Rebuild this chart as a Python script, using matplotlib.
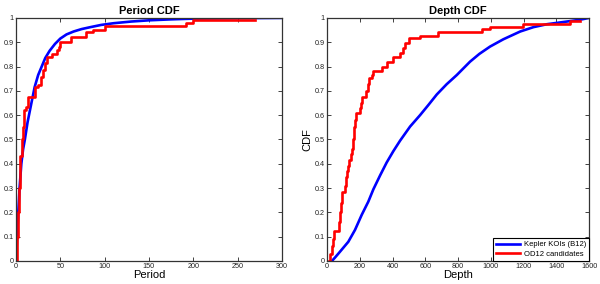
import matplotlib.pyplot as plt

plt.rcParams['font.family'] = ['Liberation Sans', 'DejaVu Sans']

# Period CDF, Kepler KOIs (B12) - smooth curve
period_koi = [0, 1, 2, 4, 6, 8, 10, 13, 16, 21, 25, 29, 33, 38, 44, 50, 57, 65, 74, 84,
              96, 110, 130, 150, 175, 200, 250, 300]
period_koi_cdf = [0, 0.08, 0.16, 0.3, 0.4, 0.46, 0.5, 0.57, 0.625, 0.715, 0.765, 0.80,
                  0.835, 0.865, 0.893, 0.915, 0.932, 0.944, 0.954, 0.962, 0.971, 0.978,
                  0.985, 0.99, 0.994, 0.997, 0.999, 1.0]

# Period CDF, OD12 candidates - steps
period_od = [0, 1, 2, 3, 4, 5, 6.4, 7.5, 9, 11.3, 13.9, 21.4, 25, 27.8, 30.8, 32.7,
             34.6, 40.2, 45.9, 48, 49.6, 62.5, 79, 86.6, 100.5, 192, 200, 270]
period_od_cdf = [0, 0.1, 0.2, 0.3, 0.36, 0.43, 0.5, 0.55, 0.62, 0.635, 0.675, 0.715,
                 0.725, 0.758, 0.785, 0.815, 0.84, 0.853, 0.868, 0.88, 0.9, 0.922,
                 0.94, 0.952, 0.965, 0.977, 0.99, 0.99]

# Depth CDF, Kepler KOIs (B12)
depth_koi = [30, 50, 79, 130, 171, 212, 252, 283, 324, 364, 405, 446, 507, 568, 619,
             670, 730, 792, 873, 930, 995, 1076, 1179, 1260, 1342, 1464, 1540, 1600]
depth_koi_cdf = [0, 0.015, 0.038, 0.079, 0.128, 0.19, 0.244, 0.295, 0.352, 0.405, 0.452,
                 0.495, 0.553, 0.60, 0.642, 0.685, 0.727, 0.765, 0.82, 0.852, 0.882,
                 0.912, 0.944, 0.962, 0.974, 0.985, 0.992, 1.0]

# Depth CDF, OD12 candidates
depth_od = [15, 20, 28, 35, 42, 72, 78, 84, 90, 108, 113, 122, 130, 136, 144, 150, 156,
            162, 170, 177, 200, 210, 216, 240, 248, 256, 273, 283, 334, 364, 401, 446,
            462, 476, 503, 568, 680, 945, 995, 1199, 1484, 1545]
depth_od_cdf = [0, 0.03, 0.06, 0.09, 0.125, 0.16, 0.2, 0.24, 0.285, 0.31, 0.347, 0.37,
                0.39, 0.415, 0.44, 0.46, 0.5, 0.55, 0.58, 0.608, 0.628, 0.65, 0.675, 0.70,
                0.73, 0.752, 0.765, 0.78, 0.80, 0.82, 0.84, 0.855, 0.875, 0.895, 0.916,
                0.927, 0.941, 0.955, 0.964, 0.975, 0.989, 0.989]

period_ticks = [0, 50, 100, 150, 200, 250, 300]
depth_ticks = [0, 200, 400, 600, 800, 1000, 1200, 1400, 1600]
cdf_ticks = [0, 0.1, 0.2, 0.3, 0.4, 0.5, 0.6, 0.7, 0.8, 0.9, 1]
cdf_labels = ['0', '0.1', '0.2', '0.3', '0.4', '0.5', '0.6', '0.7', '0.8', '0.9', '1']

blue = '#0000ff'
red = '#ff0000'
lw = 1.9

fig = plt.figure(figsize=(6, 2.84), dpi=100)
ax1 = fig.add_axes([0.0267, 0.081, 0.443, 0.856])
ax2 = fig.add_axes([0.545, 0.081, 0.437, 0.856])


def style_axes(ax, xticks, xmax):
    ax.set_xlim(0, xmax)
    ax.set_ylim(0, 1)
    ax.set_xticks(xticks)
    ax.set_xticklabels([str(t) for t in xticks])
    ax.set_yticks(cdf_ticks)
    ax.set_yticklabels(cdf_labels)
    ax.tick_params(direction='in', top=True, right=True, length=3, width=0.6,
                   labelsize=5.2, pad=1.5, colors='#222222')
    for s in ax.spines.values():
        s.set_linewidth(0.9)
        s.set_color('#333333')


ax1.plot(period_koi, period_koi_cdf, color=blue, lw=lw)
ax1.step(period_od, period_od_cdf, where='post', color=red, lw=lw)
style_axes(ax1, period_ticks, 300)
ax1.set_title('Period CDF', fontsize=8, fontweight='bold', pad=3)
ax1.set_xlabel('Period', fontsize=8, labelpad=0)

ax2.plot(depth_koi, depth_koi_cdf, color=blue, lw=lw, label='Kepler KOIs (B12)')
ax2.step(depth_od, depth_od_cdf, where='post', color=red, lw=lw, label='OD12 candidates')
style_axes(ax2, depth_ticks, 1600)
ax2.set_title('Depth CDF', fontsize=8, fontweight='bold', pad=3)
ax2.set_xlabel('Depth', fontsize=8, labelpad=0)
ax2.set_ylabel('CDF', fontsize=8, labelpad=2)
leg = ax2.legend(loc='lower right', fontsize=5.5, fancybox=False, framealpha=1,
                 edgecolor='black', borderaxespad=0, handlelength=3.2,
                 borderpad=0.4, labelspacing=0.3, handletextpad=0.5)
leg.get_frame().set_linewidth(0.8)

fig.savefig('out.png', dpi=100)
